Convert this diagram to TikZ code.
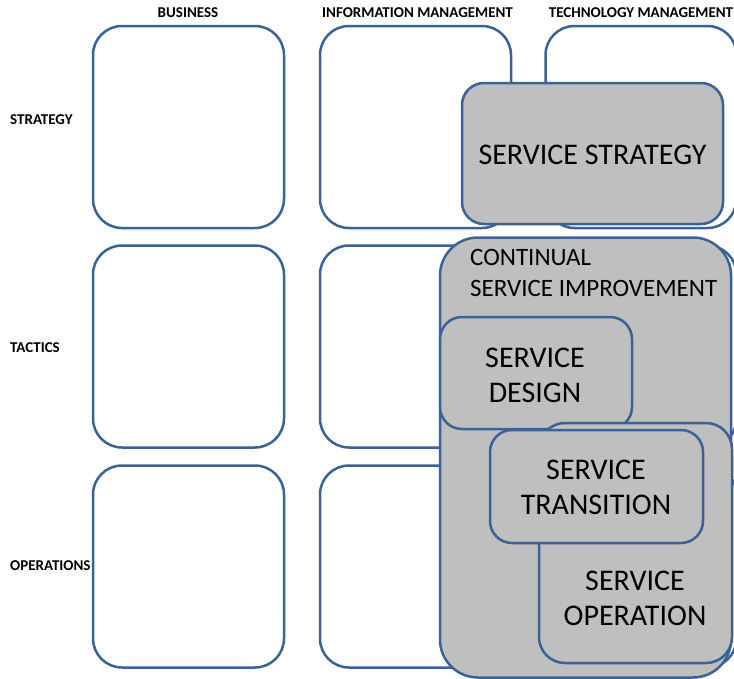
\documentclass[tikz,border=0pt]{standalone}
\usepackage{fontspec}
\setmainfont{Carlito}
\definecolor{edge}{HTML}{3A6296}
\definecolor{shade}{HTML}{BFBFBF}
\tikzset{
  cell/.style={draw=edge, line width=2.5pt, fill=white, rounded corners=29pt, inner sep=0pt},
  phase/.style={draw=edge, line width=2.5pt, fill=shade, rounded corners=22pt, inner sep=0pt},
  colhead/.style={font=\fontsize{15}{17}\selectfont\bfseries, anchor=base, inner sep=0pt},
  rowhead/.style={font=\fontsize{15}{17}\selectfont\bfseries, anchor=base west, inner sep=0pt},
  big/.style={font=\fontsize{30}{35}\selectfont, align=center, inner sep=0pt},
  mid/.style={font=\fontsize{25}{31}\selectfont, anchor=base west, inner sep=0pt}
}
\begin{document}
\begin{tikzpicture}[x=1pt,y=-1pt]
\useasboundingbox (0,0) rectangle (734,678);
% grid of cells
\foreach \c/\cx in {1/188.5, 2/415.5, 3/641} {
  \foreach \r/\ry in {1/127, 2/346.5, 3/566.5} {
    \node[cell, minimum width=191pt, minimum height=202pt] (c\c\r) at (\cx,\ry) {};
  }
}
% headings
\node[colhead] (hbus) at (188,17.5) {BUSINESS};
\node[colhead] (hinf) at (417.5,17.5) {INFORMATION MANAGEMENT};
\node[colhead] (htec) at (641,17.5) {TECHNOLOGY MANAGEMENT};
\node[rowhead] (rstr) at (10,124) {STRATEGY};
\node[rowhead] (rtac) at (10,352) {TACTICS};
\node[rowhead] (rops) at (10,570) {OPERATIONS};
% service strategy
\node[phase, minimum width=261pt, minimum height=141pt] (ss) at (592.5,153.5) {};
\node[big] (sst) at (592.5,155) {SERVICE STRATEGY};
% continual service improvement
\node[phase, rounded corners=38pt, minimum width=291pt, minimum height=440pt] (csi) at (585.5,457.5) {};
\node[mid] (csi1) at (470,265) {CONTINUAL};
\node[mid] (csi2) at (470,296) {SERVICE IMPROVEMENT};
% service design
\node[phase, minimum width=192pt, minimum height=112pt] (sd) at (536,373) {};
\node[big] (sdt) at (535,375) {SERVICE\\DESIGN};
% service operation
\node[phase, rounded corners=26pt, minimum width=193pt, minimum height=240pt] (so) at (635.5,543) {};
\node[big] (sot) at (635,598) {SERVICE\\OPERATION};
% service transition
\node[phase, minimum width=213pt, minimum height=113pt] (st) at (596.5,486.5) {};
\node[big] (stt) at (596,487) {SERVICE\\TRANSITION};
\end{tikzpicture}
\end{document}
